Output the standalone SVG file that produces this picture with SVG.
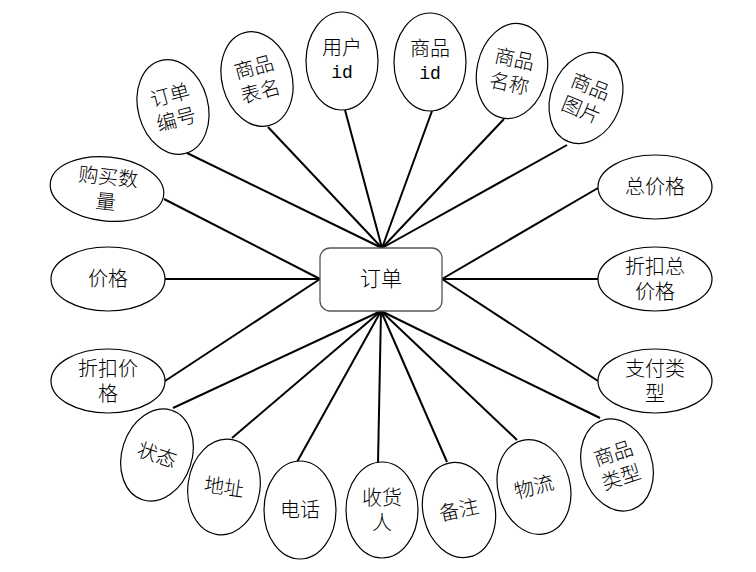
<svg xmlns="http://www.w3.org/2000/svg" width="756" height="572" viewBox="0 0 756 572">
<style>
.e{fill:#fff;stroke:#000;stroke-width:1.2}
.t{font-family:"Liberation Serif","Noto Sans CJK SC",serif;font-size:20px;font-weight:300;fill:#000;text-anchor:middle;dominant-baseline:central}
.m{font-family:"Liberation Mono","Noto Sans CJK SC",monospace;font-weight:400}
.c line{stroke:#000;stroke-width:2}
</style>
<rect width="756" height="572" fill="#fff"/>
<g class="c" id="connectors">
<line x1="187" y1="153" x2="382" y2="248"/>
<line x1="268" y1="127" x2="382" y2="248"/>
<line x1="345" y1="110" x2="382" y2="248"/>
<line x1="432" y1="111" x2="382" y2="248"/>
<line x1="504" y1="119" x2="382" y2="248"/>
<line x1="567" y1="145" x2="382" y2="248"/>
<line x1="598" y1="188" x2="442" y2="279"/>
<line x1="598" y1="279" x2="442" y2="279"/>
<line x1="598" y1="381" x2="442" y2="279"/>
<line x1="600" y1="418" x2="381" y2="311"/>
<line x1="517" y1="440" x2="381" y2="311"/>
<line x1="447" y1="462" x2="381" y2="311"/>
<line x1="378" y1="463" x2="381" y2="311"/>
<line x1="297" y1="462" x2="381" y2="311"/>
<line x1="232" y1="438" x2="381" y2="311"/>
<line x1="173" y1="408" x2="381" y2="311"/>
<line x1="165" y1="381" x2="320" y2="279"/>
<line x1="165" y1="279" x2="320" y2="279"/>
<line x1="164" y1="199" x2="320" y2="279"/>
</g>
<g id="order">
<rect x="320" y="248" width="122" height="63" rx="10" fill="#fff" stroke="#555" stroke-width="1.3"/>
<text class="t" x="381" y="279" style="font-size:21px">订单</text>
</g>
<g id="n_ddbh" transform="translate(173,107) rotate(-15)">
<ellipse class="e" rx="35" ry="48"/>
<text class="t" y="-12">订单</text><text class="t" y="13">编号</text>
</g>
<g id="n_spbm" transform="translate(257,79) rotate(-15)">
<ellipse class="e" rx="35" ry="48"/>
<text class="t" y="-12">商品</text><text class="t" y="13">表名</text>
</g>
<g id="n_yhid" transform="translate(342,61)">
<ellipse class="e" rx="36" ry="49"/>
<text class="t" y="-13">用户</text><text class="t m" y="12" style="font-size:18px">id</text>
</g>
<g id="n_spid" transform="translate(430,62)">
<ellipse class="e" rx="36" ry="49"/>
<text class="t" y="-13">商品</text><text class="t m" y="12" style="font-size:18px">id</text>
</g>
<g id="n_spmc" transform="translate(512,71) rotate(12)">
<ellipse class="e" rx="35" ry="48"/>
<text class="t" y="-12">商品</text><text class="t" y="13">名称</text>
</g>
<g id="n_sptp" transform="translate(586,98) rotate(22)">
<ellipse class="e" rx="35" ry="47"/>
<text class="t" y="-12">商品</text><text class="t" y="13">图片</text>
</g>
<g id="n_zjg" transform="translate(655,187)">
<ellipse class="e" rx="57" ry="32"/>
<text class="t">总价格</text>
</g>
<g id="n_zkzjg" transform="translate(655,279)">
<ellipse class="e" rx="57" ry="32"/>
<text class="t" y="-12">折扣总</text><text class="t" y="13">价格</text>
</g>
<g id="n_zflx" transform="translate(655,381)">
<ellipse class="e" rx="57" ry="32"/>
<text class="t" y="-12">支付类</text><text class="t" y="13">型</text>
</g>
<g id="n_splx" transform="translate(617,465) rotate(-18)">
<ellipse class="e" rx="35" ry="47"/>
<text class="t" y="-12">商品</text><text class="t" y="13">类型</text>
</g>
<g id="n_wl" transform="translate(534,487) rotate(-15)">
<ellipse class="e" rx="36" ry="48"/>
<text class="t">物流</text>
</g>
<g id="n_bz" transform="translate(459,510) rotate(-12)">
<ellipse class="e" rx="36" ry="48"/>
<text class="t">备注</text>
</g>
<g id="n_shr" transform="translate(382,510)">
<ellipse class="e" rx="36" ry="48"/>
<text class="t" y="-12">收货</text><text class="t" y="13">人</text>
</g>
<g id="n_dh" transform="translate(300,510)">
<ellipse class="e" rx="36" ry="49"/>
<text class="t">电话</text>
</g>
<g id="n_dz" transform="translate(224,487) rotate(8)">
<ellipse class="e" rx="36" ry="48"/>
<text class="t">地址</text>
</g>
<g id="n_zt" transform="translate(157,455) rotate(18)">
<ellipse class="e" rx="35" ry="47"/>
<text class="t">状态</text>
</g>
<g id="n_zkjg" transform="translate(108,381)">
<ellipse class="e" rx="57" ry="32"/>
<text class="t" y="-12">折扣价</text><text class="t" y="13">格</text>
</g>
<g id="n_jg" transform="translate(108,279)">
<ellipse class="e" rx="57" ry="32"/>
<text class="t">价格</text>
</g>
<g id="n_gmsl" transform="translate(107,189) rotate(6)">
<ellipse class="e" rx="57" ry="32"/>
<text class="t" y="-12">购买数</text><text class="t" y="13">量</text>
</g>
</svg>
